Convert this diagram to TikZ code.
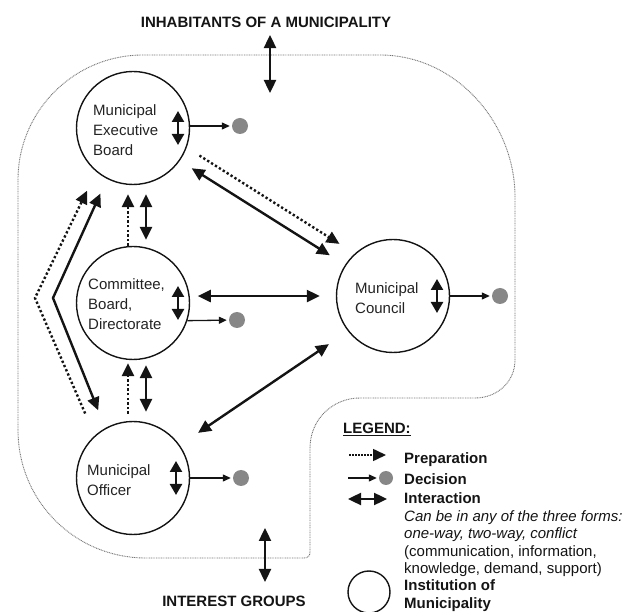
\documentclass[tikz,border=0pt]{standalone}
\usepackage{fontspec}
\setmainfont{Liberation Sans}
\usetikzlibrary{arrows.meta}
\definecolor{lineBlack}{RGB}{20, 20, 20}
\definecolor{textDark}{RGB}{35, 35, 35}
\definecolor{decisionGray}{RGB}{135, 135, 135}
\definecolor{boundaryGray}{RGB}{115, 115, 115}

\begin{document}
\begin{tikzpicture}[x=1pt, y=-1pt,
    inst/.style={draw=lineBlack, line width=1.4pt, circle, minimum size=113pt, inner sep=0pt},
    insttext/.style={anchor=west, align=left, inner sep=0pt, text=textDark, font=\fontsize{15}{20}\selectfont},
    inter/.style={{Triangle[length=13pt,width=12pt]}-{Triangle[length=13pt,width=12pt]}, line width=2.4pt, draw=lineBlack},
    interin/.style={{Triangle[length=11pt,width=12pt]}-{Triangle[length=11pt,width=12pt]}, line width=2.4pt, draw=lineBlack},
    prep/.style={-{Triangle[length=13pt,width=12pt]}, line width=2.4pt, draw=lineBlack, dash pattern=on 2.3pt off 2.3pt},
    decar/.style={-{Triangle[length=8pt,width=7pt]}, line width=1.3pt, draw=lineBlack, shorten >=2pt},
    decdot/.style={circle, fill=decisionGray, minimum size=16pt, inner sep=0pt},
    boundary/.style={draw=boundaryGray, line width=0.9pt, dash pattern=on 0.9pt off 0.8pt},
    headline/.style={inner sep=0pt, text=lineBlack, font=\bfseries\fontsize{15}{18}\selectfont},
    legtext/.style={anchor=north west, align=left, inner sep=0pt, text=lineBlack, font=\fontsize{15}{17.5}\selectfont}]
    \useasboundingbox (0,0) rectangle (638,612);

    % Municipality boundary
    \draw[boundary] (18,430) -- (18,180) .. controls (18,111) and (74,55) .. (143,55)
        -- (380,55) .. controls (455,55) and (515,122) .. (515,197)
        -- (515,360) .. controls (515,382) and (497,398) .. (475,398)
        -- (360,398) .. controls (332,398) and (310,420) .. (310,448)
        -- (310,552) .. controls (310,556) and (308,558) .. (304,558)
        -- (146,558) .. controls (75,558) and (18,501) .. (18,430) -- cycle;

    % Institutions
    \node[inst] (meb) at (133,128) {};
    \node[insttext] (mebtext) at (93,130) {Municipal\\Executive\\Board};
    \node[inst] (cbd) at (133,303) {};
    \node[insttext] (cbdtext) at (88,304) {Committee,\\Board,\\Directorate};
    \node[inst] (off) at (133,478) {};
    \node[insttext] (offtext) at (87,480) {Municipal\\Officer};
    \node[inst] (cou) at (393,296) {};
    \node[insttext] (coutext) at (355,298) {Municipal\\Council};

    % Interaction inside each institution
    \draw[interin] ([shift={(45,-17)}]meb.center) -- ([shift={(45,17)}]meb.center);
    \draw[interin] ([shift={(45,-17)}]cbd.center) -- ([shift={(45,17)}]cbd.center);
    \draw[interin] ([shift={(43,-17)}]off.center) -- ([shift={(43,17)}]off.center);
    \draw[interin] ([shift={(44,-17)}]cou.center) -- ([shift={(44,17)}]cou.center);

    % Decisions
    \node[decdot] (mebdot) at (240,126) {};
    \node[decdot] (cbddot) at (237,320) {};
    \node[decdot] (offdot) at (241,478) {};
    \node[decdot] (coudot) at (500,296) {};
    \draw[decar] (meb.east |- mebdot) -- (mebdot);
    \draw[decar] (cbd.-18) -- (cbddot);
    \draw[decar] (off) -- (offdot);
    \draw[decar] (cou) -- (coudot);

    % Connections between institutions
    \draw[prep, shorten <=15pt, shorten >=18pt] (meb.-20) -- (cou.132);
    \draw[inter, shorten <=14pt, shorten >=18pt] (meb.-35) -- (cou.147);
    \draw[inter, shorten <=8pt, shorten >=16pt] (cbd.7) -- (cbd.7 -| cou.west);
    \draw[inter, shorten <=22pt, shorten >=23pt] (off.35) -- (cou.218);
    \draw[inter, shorten <=9pt, shorten >=6pt] ([xshift=13pt]meb.south) -- ([xshift=13pt]cbd.north);
    \draw[prep, shorten >=9pt] ([xshift=-5pt]cbd.north) -- ([xshift=-5pt]meb.south);
    \draw[inter, shorten <=5pt, shorten >=9pt] ([xshift=13pt]cbd.south) -- ([xshift=13pt]off.north);
    \draw[prep, shorten <=7pt, shorten >=3pt] ([xshift=-5pt]off.north) -- ([xshift=-5pt]cbd.south);

    % Officer and executive board
    \coordinate (vsolid) at (53,298);
    \coordinate (vprep) at (35,298);
    \draw[inter, shorten <=16pt, shorten >=19pt] (meb.243) -- (vsolid) -- (off.119);
    \draw[prep, shorten <=24pt, shorten >=21pt] (off.132) -- (vprep) -- (meb.230);

    % Outside actors
    \node[headline] (inh) at (266,22) {INHABITANTS OF A MUNICIPALITY};
    \coordinate (inhlink) at (270,93);
    \draw[inter, shorten <=7.5pt] (inh.south -| inhlink) -- (inhlink);
    \node[headline] (igr) at (234,601) {INTEREST GROUPS};
    \coordinate (igrlink) at (265,528);
    \draw[inter, shorten >=13.5pt] (igrlink) -- (igr.north -| igrlink);

    % Legend
    \node[headline, anchor=base west] (leg) at (343,433.5) {\underline{LEGEND:}};
    \coordinate (lprepa) at (349,455);
    \coordinate (lprepb) at (386,455);
    \draw[prep, line width=1.6pt, dash pattern=on 1.5pt off 1.5pt] (lprepa) -- (lprepb);
    \node[legtext, anchor=base west] (lprep) at (404,463.5) {\textbf{Preparation}};
    \coordinate (ldeca) at (348,478);
    \node[decdot, minimum size=14pt] (ldecdot) at (386,478) {};
    \draw[decar] (ldeca) -- (ldecdot);
    \node[legtext, anchor=base west] (ldec) at (404,485) {\textbf{Decision}};
    \coordinate (lintera) at (348,499);
    \coordinate (linterb) at (387,499);
    \draw[inter] (lintera) -- (linterb);
    \node[legtext] (linter) at (404,492.6) {\textbf{Interaction}\\\textit{Can be in any of the three forms:}\\\textit{one-way, two-way, conflict}\\(communication, information,\\knowledge, demand, support)};
    \node[inst, minimum size=42pt] (linst) at (369,592) {};
    \node[legtext, font=\bfseries\fontsize{15}{18}\selectfont] (linsttext) at (404,579.5) {Institution of\\Municipality};
\end{tikzpicture}
\end{document}
